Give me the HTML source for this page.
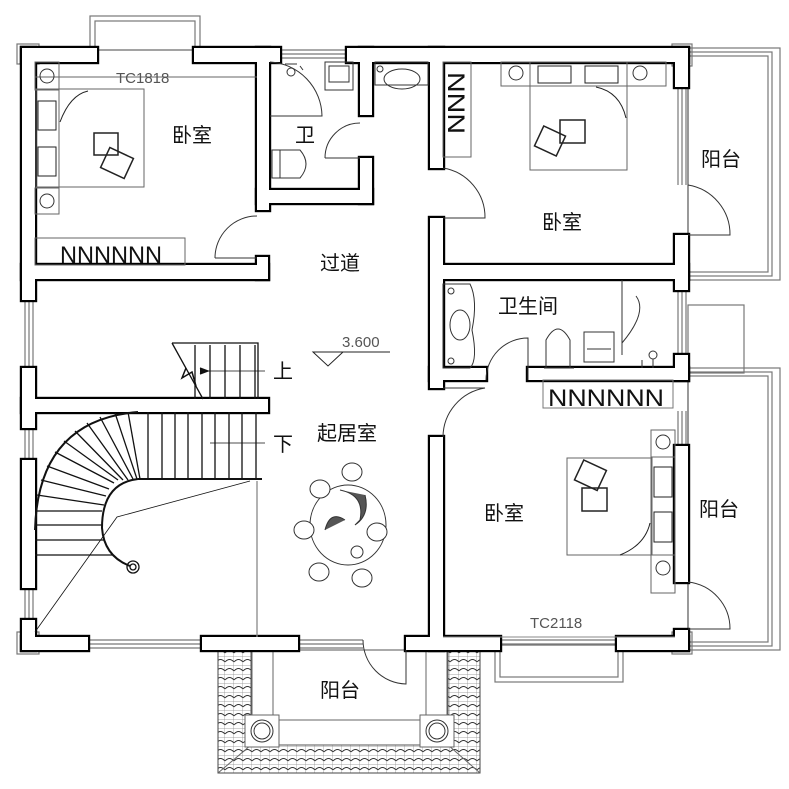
<!DOCTYPE html>
<html><head><meta charset="utf-8"><style>
html,body{margin:0;padding:0;background:#fff}
svg{display:block}
text{font-family:"Liberation Sans","Noto Sans CJK SC",sans-serif;fill:#111}
</style></head><body>
<svg width="789" height="789" viewBox="0 0 789 789" xmlns="http://www.w3.org/2000/svg">
<defs>
<pattern id="tile" width="9" height="9" patternUnits="userSpaceOnUse">
<rect width="9" height="9" fill="#fff"/>
<path d="M0,9 L9,9 M9,0 L9,9" stroke="#888" stroke-width="0.7"/>
<path d="M0,5 Q4.5,0 9,5" fill="none" stroke="#333" stroke-width="0.9"/>
</pattern>
</defs>

<g fill="none" stroke="#777" stroke-width="1.2">
<rect x="90" y="16" width="110" height="34"/>
<rect x="95" y="21" width="100" height="29"/>
<rect x="17" y="44" width="22" height="20"/>
<line x1="280" y1="50" x2="347" y2="50"/><line x1="280" y1="54" x2="347" y2="54"/><line x1="280" y1="58" x2="347" y2="58"/>
<rect x="688" y="48" width="92" height="232"/>
<rect x="688" y="52" width="84" height="224"/>
<rect x="688" y="56" width="80" height="216"/>
<rect x="672" y="44" width="20" height="22"/>
<line x1="678" y1="87" x2="678" y2="185"/><line x1="682" y1="87" x2="682" y2="185"/><line x1="686" y1="87" x2="686" y2="185"/>
<line x1="678" y1="290" x2="678" y2="355"/><line x1="682" y1="290" x2="682" y2="355"/><line x1="686" y1="290" x2="686" y2="355"/>
<rect x="688" y="305" width="56" height="68"/>
<rect x="688" y="368" width="92" height="282"/>
<rect x="688" y="372" width="84" height="274"/>
<rect x="688" y="376" width="80" height="266"/>
<rect x="672" y="632" width="20" height="22"/>
<line x1="678" y1="411" x2="678" y2="446"/><line x1="682" y1="411" x2="682" y2="446"/><line x1="686" y1="411" x2="686" y2="446"/>
<rect x="495" y="645" width="128" height="37"/>
<rect x="500" y="645" width="118" height="32"/>
<line x1="25" y1="300" x2="25" y2="368"/><line x1="29" y1="300" x2="29" y2="368"/><line x1="33" y1="300" x2="33" y2="368"/>
<line x1="25" y1="428" x2="25" y2="460"/><line x1="29" y1="428" x2="29" y2="460"/><line x1="33" y1="428" x2="33" y2="460"/>
<line x1="25" y1="588" x2="25" y2="620"/><line x1="29" y1="588" x2="29" y2="620"/><line x1="33" y1="588" x2="33" y2="620"/>
<rect x="17" y="632" width="22" height="22"/>
<line x1="88" y1="640" x2="202" y2="640"/><line x1="88" y1="644" x2="202" y2="644"/><line x1="88" y1="648" x2="202" y2="648"/>
<line x1="298" y1="640" x2="363" y2="640"/><line x1="298" y1="644" x2="363" y2="644"/><line x1="298" y1="648" x2="363" y2="648"/>
<line x1="500" y1="640" x2="617" y2="640"/><line x1="500" y1="644" x2="617" y2="644"/>
</g>

<rect x="218" y="650" width="262" height="123" fill="url(#tile)" stroke="#444" stroke-width="1"/>
<rect x="251" y="650" width="197" height="95" fill="#fff" stroke="#555" stroke-width="1"/>
<g fill="none" stroke="#666" stroke-width="1">
<line x1="218" y1="773" x2="251" y2="745"/><line x1="480" y1="773" x2="448" y2="745"/>
<rect x="252" y="650" width="21" height="66"/><rect x="426" y="650" width="21" height="66"/>
<line x1="273" y1="720" x2="426" y2="720"/>
<rect x="245" y="715" width="34" height="32" fill="#fff"/><rect x="420" y="715" width="34" height="32" fill="#fff"/>
<circle cx="262" cy="731" r="11" stroke="#333"/><circle cx="262" cy="731" r="8" stroke="#333"/>
<circle cx="437" cy="731" r="11" stroke="#333"/><circle cx="437" cy="731" r="8" stroke="#333"/>
</g>

<g fill="#000" stroke="#000" stroke-width="4.4">
<rect x="22" y="48" width="75" height="14"/><rect x="194" y="48" width="86" height="14"/>
<rect x="22" y="48" width="13" height="252"/><rect x="22" y="368" width="13" height="60"/>
<rect x="22" y="460" width="13" height="128"/><rect x="22" y="620" width="13" height="30"/>
<rect x="257" y="48" width="12" height="162"/>
<rect x="22" y="265" width="246" height="14"/><rect x="257" y="257" width="11" height="22"/>
<rect x="257" y="190" width="115" height="13"/>
<rect x="360" y="48" width="12" height="67"/><rect x="360" y="158" width="12" height="45"/>
<rect x="347" y="48" width="341" height="14"/>
<rect x="430" y="48" width="13" height="120"/><rect x="430" y="218" width="13" height="170"/>
<rect x="675" y="48" width="13" height="39"/><rect x="675" y="235" width="13" height="55"/><rect x="675" y="355" width="13" height="25"/>
<rect x="443" y="265" width="245" height="14"/>
<rect x="430" y="368" width="56" height="12"/><rect x="528" y="368" width="160" height="12"/>
<rect x="22" y="399" width="246" height="13"/>
<rect x="22" y="637" width="66" height="13"/><rect x="202" y="637" width="96" height="13"/>
<rect x="406" y="637" width="94" height="13"/><rect x="617" y="637" width="71" height="13"/>
<rect x="675" y="630" width="13" height="20"/>
<rect x="430" y="437" width="13" height="213"/>
<rect x="675" y="446" width="13" height="136"/>
</g>
<g fill="#fff" stroke="none">
<rect x="22" y="48" width="75" height="14"/><rect x="194" y="48" width="86" height="14"/>
<rect x="22" y="48" width="13" height="252"/><rect x="22" y="368" width="13" height="60"/>
<rect x="22" y="460" width="13" height="128"/><rect x="22" y="620" width="13" height="30"/>
<rect x="257" y="48" width="12" height="162"/>
<rect x="22" y="265" width="246" height="14"/><rect x="257" y="257" width="11" height="22"/>
<rect x="257" y="190" width="115" height="13"/>
<rect x="360" y="48" width="12" height="67"/><rect x="360" y="158" width="12" height="45"/>
<rect x="347" y="48" width="341" height="14"/>
<rect x="430" y="48" width="13" height="120"/><rect x="430" y="218" width="13" height="170"/>
<rect x="675" y="48" width="13" height="39"/><rect x="675" y="235" width="13" height="55"/><rect x="675" y="355" width="13" height="25"/>
<rect x="443" y="265" width="245" height="14"/>
<rect x="430" y="368" width="56" height="12"/><rect x="528" y="368" width="160" height="12"/>
<rect x="22" y="399" width="246" height="13"/>
<rect x="22" y="637" width="66" height="13"/><rect x="202" y="637" width="96" height="13"/>
<rect x="406" y="637" width="94" height="13"/><rect x="617" y="637" width="71" height="13"/>
<rect x="675" y="630" width="13" height="20"/>
<rect x="430" y="437" width="13" height="213"/>
<rect x="675" y="446" width="13" height="136"/>
</g>

<g fill="none" stroke="#333" stroke-width="1">
<path d="M215,258 L257,258 M215,258 A42,42 0 0 1 257,216"/>
<path d="M325,158 L360,158 M325,158 A35,35 0 0 1 360,123"/>
<path d="M270,116 L322,116 A55,55 0 0 0 270,62"/>
<path d="M443,168 A50,50 0 0 1 485,218 L443,218"/>
<path d="M688,185 A50,50 0 0 1 730,235 L688,235"/>
<path d="M486,380 A42,42 0 0 1 528,338 L528,380"/>
<path d="M443,437 A50,50 0 0 1 485,388 L443,388"/>
<path d="M688,582 A47,47 0 0 1 730,629 L688,629"/>
<path d="M363,640 A44,44 0 0 0 406,684 L406,650"/>
<path d="M622,280 L622,355 M622,343 Q648,312 636,296"/>
</g>

<g fill="none" stroke="#666" stroke-width="1">
<line x1="35" y1="77" x2="257" y2="77"/>
<rect x="35" y="62" width="24" height="28"/><rect x="35" y="188" width="24" height="26"/>
<rect x="36" y="89" width="108" height="98"/><rect x="59" y="89" width="85" height="98"/>
<rect x="35" y="238" width="150" height="27"/>
<circle cx="47" cy="76" r="7" stroke="#333"/><circle cx="47" cy="201" r="7" stroke="#333"/>
<rect x="38" y="101" width="18" height="29" stroke="#222"/><rect x="38" y="147" width="18" height="29" stroke="#222"/>
<path d="M60,122 Q70,95 88,91" stroke="#222"/>
<rect x="94" y="133" width="24" height="22" stroke="#222" stroke-width="1.5"/>
<rect x="104" y="152" width="26" height="22" stroke="#222" stroke-width="1.5" transform="rotate(25 117 163)"/>
</g>
<text x="60" y="263" font-size="24" fill="#555" textLength="102" lengthAdjust="spacingAndGlyphs">NNNNNN</text>
<g fill="none" stroke="#666" stroke-width="1">
<rect x="501" y="62" width="165" height="24"/>
<line x1="530" y1="62" x2="530" y2="86"/><line x1="627" y1="62" x2="627" y2="86"/>
<rect x="530" y="86" width="97" height="84"/>
<circle cx="516" cy="73" r="7" stroke="#333"/><circle cx="640" cy="73" r="7" stroke="#333"/>
<rect x="538" y="66" width="33" height="17" stroke="#222"/><rect x="585" y="66" width="33" height="17" stroke="#222"/>
<path d="M596,87 Q620,92 626,118" stroke="#222"/>
<rect x="560" y="120" width="25" height="23" stroke="#222" stroke-width="1.5"/>
<rect x="538" y="130" width="24" height="22" stroke="#222" stroke-width="1.5" transform="rotate(25 550 141)"/>
<rect x="443" y="62" width="28" height="95"/>
</g>
<text x="0" y="0" font-size="24" fill="#555" transform="translate(448,72) rotate(90)" textLength="62" lengthAdjust="spacingAndGlyphs">NNN</text>
<g fill="none" stroke="#333" stroke-width="1">
<rect x="325" y="62" width="28" height="28"/><rect x="329" y="66" width="20" height="16"/>
<circle cx="291" cy="72" r="4"/><path d="M285,64 L297,64 M300,66 L303,70"/>
<rect x="272" y="150" width="8" height="28"/>
<path d="M280,150 L300,150 Q312,164 300,178 L280,178"/>
<path d="M375,62 L428,62 L428,85 L375,85 Z"/><ellipse cx="402" cy="79" rx="18" ry="10"/>
<circle cx="380" cy="69" r="3"/>
<path d="M443,284 L470,284 Q478,300 472,330 Q478,360 470,368 L443,368 Z"/>
<ellipse cx="460" cy="325" rx="10" ry="15"/><circle cx="451" cy="291" r="3"/><circle cx="451" cy="361" r="3"/>
<path d="M546,368 L546,340 Q558,318 570,340 L570,368"/><path d="M544,368 L574,368"/>
<rect x="584" y="332" width="30" height="30"/><line x1="587" y1="349" x2="611" y2="349"/>
<circle cx="653" cy="355" r="4"/><path d="M642,360 L642,368 M653,359 L653,368"/>
<rect x="543" y="380" width="130" height="28" stroke="#777"/>
</g>
<text x="0" y="0" font-size="24" fill="#555" transform="translate(548,406)" textLength="116" lengthAdjust="spacingAndGlyphs">NNNNNN</text>
<g fill="none" stroke="#666" stroke-width="1">
<rect x="567" y="458" width="85" height="97"/>
<rect x="651" y="430" width="24" height="163"/>
<line x1="651" y1="457" x2="675" y2="457"/><line x1="651" y1="555" x2="675" y2="555"/>
<circle cx="663" cy="442" r="7" stroke="#333"/><circle cx="663" cy="568" r="7" stroke="#333"/>
<rect x="654" y="467" width="18" height="30" stroke="#222"/><rect x="654" y="512" width="18" height="30" stroke="#222"/>
<path d="M620,555 Q645,545 650,523" stroke="#222"/>
<rect x="582" y="488" width="25" height="23" stroke="#222" stroke-width="1.5"/>
<rect x="578" y="464" width="25" height="22" stroke="#222" stroke-width="1.5" transform="rotate(25 590 475)"/>
<line x1="443" y1="637" x2="675" y2="637" stroke="#888"/>
</g>

<g fill="none" stroke="#111" stroke-width="1.3">
<path d="M172,343 L258,343 L258,399"/>
<path d="M172,343 L203,399"/>
<path d="M186,368 L182,378 L192,372 L196,386" stroke-width="1.5"/>
<line x1="195" y1="345" x2="195" y2="399"/><line x1="210" y1="345" x2="210" y2="399"/><line x1="225" y1="345" x2="225" y2="399"/><line x1="240" y1="345" x2="240" y2="399"/><line x1="255" y1="345" x2="255" y2="399"/>
<line x1="200" y1="371" x2="265" y2="371" stroke-width="0.8"/>
<path d="M200,368 L208,371 L200,374" fill="#111"/>
<line x1="175" y1="412" x2="175" y2="479"/><line x1="188" y1="412" x2="188" y2="479"/><line x1="202" y1="412" x2="202" y2="479"/><line x1="215" y1="412" x2="215" y2="479"/><line x1="229" y1="412" x2="229" y2="479"/><line x1="242" y1="412" x2="242" y2="479"/><line x1="256" y1="412" x2="256" y2="479"/><line x1="148" y1="412" x2="148" y2="479"/><line x1="162" y1="412" x2="162" y2="479"/>
<line x1="210" y1="443" x2="265" y2="443" stroke-width="0.8"/>
<line x1="138" y1="479" x2="262" y2="479" stroke-width="2"/>
<path d="M35,530 Q38,420 138,412" stroke-width="2"/>
<path d="M138,479 Q102,483 102,528 Q104,556 130,566" stroke-width="2"/>
<line x1="35" y1="525" x2="102" y2="525"/><line x1="35" y1="511" x2="102" y2="511"/>
<line x1="37" y1="495" x2="104" y2="505"/><line x1="41" y1="480" x2="106" y2="496"/><line x1="47" y1="466" x2="109" y2="489"/><line x1="55" y1="452" x2="114" y2="483"/><line x1="64" y1="441" x2="118" y2="480"/><line x1="75" y1="431" x2="123" y2="480"/><line x1="87" y1="423" x2="128" y2="480"/><line x1="100" y1="417" x2="133" y2="479"/><line x1="115" y1="413" x2="137" y2="479"/><line x1="128" y1="412" x2="140" y2="479"/>
<line x1="35" y1="540" x2="104" y2="540"/><line x1="35" y1="555" x2="112" y2="555"/>
<circle cx="133" cy="567" r="6"/><circle cx="133" cy="567" r="3"/>
<path d="M35,632 L117,517 L250,481" stroke-width="0.8"/>
<line x1="257" y1="481" x2="257" y2="637" stroke="#888"/>
</g>
<g fill="none" stroke="#222" stroke-width="1">
<path d="M313,352 L343,352 L328,366 Z"/><line x1="343" y1="352" x2="390" y2="352"/>
</g>
<g stroke="#333" stroke-width="1" fill="#fff">
<ellipse cx="348" cy="525" rx="38" ry="40"/>
<path d="M340,490 Q365,495 360,520 L355,525 Q370,515 365,495" fill="#555"/>
<path d="M325,530 Q330,510 345,520" fill="#555"/>
<circle cx="357" cy="552" r="6"/>
<ellipse cx="352" cy="472" rx="10" ry="9"/><ellipse cx="320" cy="489" rx="10" ry="9"/><ellipse cx="304" cy="530" rx="10" ry="9"/><ellipse cx="377" cy="532" rx="10" ry="9"/><ellipse cx="319" cy="572" rx="10" ry="9"/><ellipse cx="362" cy="578" rx="10" ry="9"/>
</g>

<g font-size="20">
<text x="172" y="142">卧室</text>
<text x="295" y="142">卫</text>
<text x="320" y="270">过道</text>
<text x="542" y="229">卧室</text>
<text x="701" y="166">阳台</text>
<text x="498" y="313">卫生间</text>
<text x="273" y="378">上</text>
<text x="317" y="440">起居室</text>
<text x="273" y="451">下</text>
<text x="484" y="520">卧室</text>
<text x="699" y="516">阳台</text>
<text x="320" y="697">阳台</text>
</g>
<g font-size="15">
<text x="116" y="83" style="fill:#555">TC1818</text>
<text x="530" y="628" style="fill:#555">TC2118</text>
<text x="342" y="347" style="fill:#555">3.600</text>
</g>
</svg>
</body></html>
